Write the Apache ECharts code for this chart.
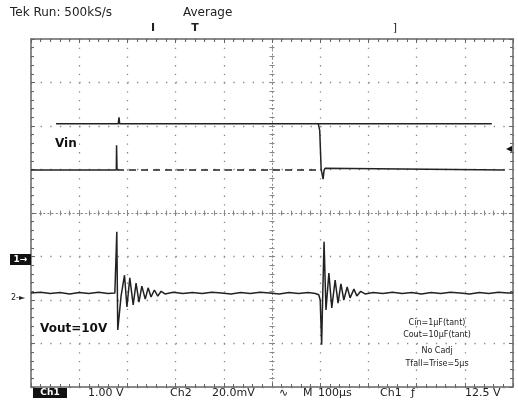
<!DOCTYPE html>
<html><head><meta charset="utf-8">
<script src="https://cdn.jsdelivr.net/npm/echarts@6/dist/echarts.min.js"></script>
<style>html,body{margin:0;padding:0;background:#fff}#c{width:518px;height:406px}</style>
</head><body><div id="c"></div>
<script>
// time in µs (M 100µs/div), values in screen divisions
const vinLowT = [-500, -323, -322.5, -321.5];
const vinLowV = [0.99, 0.99, 1.56, 0.99];
const vinDashT = [-321.5, 100];
const vinDashV = [0.99, 0.99];
const topLineT = [-448, -319, -317.5, -316, 456];
const topLineV = [2.05, 2.05, 2.2, 2.05, 2.05];
const vinFallT = [96, 99, 102, 103, 106, 108, 110, 483];
const vinFallV = [2.05, 1.9, 1.0, 0.95, 0.78, 0.98, 1.03, 0.99];
const voutT = [-500,-480,-460,-440,-420,-400,-380,-360,-340,-326,-323,-322,-320,-313,-306,-301,-295,-288,-282,-276,-270,-263,-257,-251,-244,-237,-230,-222,-205,-185,-165,-145,-125,-105,-85,-65,-45,-25,-5,15,35,55,75,90,97,100,103,105,108,112,118,124,131,137,143,149,156,162,170,176,184,193,210,230,250,270,290,310,330,350,370,390,410,430,450,470,490,500];
const voutV = [-1.84,-1.82,-1.85,-1.83,-1.86,-1.83,-1.85,-1.82,-1.85,-1.84,-1.84,-0.43,-2.69,-1.9,-1.43,-2.16,-1.49,-2.11,-1.61,-2.05,-1.68,-1.98,-1.72,-1.93,-1.77,-1.91,-1.80,-1.86,-1.82,-1.85,-1.83,-1.85,-1.82,-1.84,-1.86,-1.83,-1.85,-1.82,-1.84,-1.86,-1.83,-1.85,-1.83,-1.85,-1.88,-2.0,-3.03,-2.0,-0.66,-2.23,-1.38,-2.18,-1.54,-2.07,-1.63,-2.0,-1.70,-1.95,-1.75,-1.91,-1.80,-1.86,-1.83,-1.85,-1.82,-1.85,-1.83,-1.86,-1.83,-1.85,-1.82,-1.84,-1.86,-1.83,-1.85,-1.82,-1.84,-1.84];
const noteLines = ['Cin=1µF(tant)', 'Cout=10µF(tant)', 'No Cadj', 'Tfall=Trise=5µs'];

const zip = (t, v) => t.map((x, i) => [x, v[i]]);
const chart = echarts.init(document.getElementById('c'));
const frameC = '#666', dotC = '#888', traceC = '#222';
function xa(extra) {
  return Object.assign({type:'value', min:-500, max:500, interval:100, axisLabel:{show:false},
    splitLine:{show:false}, axisTick:{show:true, inside:true, length:4, lineStyle:{color:frameC}},
    minorTick:{show:true, splitNumber:5, length:3, lineStyle:{color:frameC}},
    axisLine:{show:true, onZero:false, lineStyle:{color:frameC, width:1.5}}}, extra);
}
function ya(extra) {
  return Object.assign({type:'value', min:-4, max:4, interval:1, axisLabel:{show:false},
    splitLine:{show:false}, axisTick:{show:true, inside:true, length:4, lineStyle:{color:frameC}},
    minorTick:{show:true, splitNumber:5, length:3, lineStyle:{color:frameC}},
    axisLine:{show:true, onZero:false, lineStyle:{color:frameC, width:1.5}}}, extra);
}
const centerLine = {show:true, onZero:true, onZeroAxisIndex:0, lineStyle:{color:dotC, width:1, type:[1.2,3]}};
const font = (s, w) => (w || '') + ' ' + s + 'px "DejaVu Sans"';
function txt(text, x, y, size, opts) {
  opts = opts || {};
  return {type:'text', z:100, style:{text, x, y, font:font(size, opts.weight), fill:opts.fill || '#222',
    align:opts.align || 'left', textAlign:opts.align || 'left', verticalAlign:'middle', textVerticalAlign:'middle'}};
}
const graphics = [
  txt('Tek Run: 500kS/s', 10, 13, 12),
  txt('Average', 183, 13, 12),
  txt('I', 153, 28, 11, {weight:'bold', align:'center'}),
  txt('T', 195, 28, 11, {weight:'bold', align:'center'}),
  txt(']', 395, 28, 11, {align:'center'}),
  txt('Vin', 55, 144, 12, {weight:'bold', fill:'#111'}),
  txt('Vout=10V', 40, 329, 12, {weight:'bold', fill:'#111'}),
  txt('◀', 509, 149, 8, {align:'center', fill:'#111'}),
  {type:'rect', z:100, shape:{x:10, y:254, width:21, height:11}, style:{fill:'#111'}},
  txt('1→', 20.5, 259.5, 9, {weight:'bold', fill:'#fff', align:'center'}),
  txt('2-►', 11, 298, 8, {fill:'#222'}),
  {type:'rect', z:100, shape:{x:33, y:388, width:34, height:10}, style:{fill:'#111'}},
  txt('Ch1', 50, 393, 9, {weight:'bold', fill:'#fff', align:'center'}),
  txt('1.00 V', 88, 393, 11),
  txt('Ch2', 170, 393, 11),
  txt('20.0mV', 212, 393, 11),
  txt('∿', 279, 393, 11),
  txt('M', 303, 393, 11),
  txt('100µs', 318, 393, 11),
  txt('Ch1', 380, 393, 11),
  txt('ƒ', 411, 393, 11),
  txt('12.5 V', 465, 393, 11)
];
const noteY = [323, 335, 351, 364];
noteLines.forEach((s, i) => graphics.push(txt(s, 437, noteY[i], 8, {align:'center'})));

const lineS = (name, data, dashed) => ({name, type:'line', data, showSymbol:false, symbol:'none',
  xAxisIndex:0, yAxisIndex:0, animation:false, z:10,
  lineStyle:{color:traceC, width:1.5, type: dashed ? [7,5] : 'solid'}});

chart.setOption({
  animation:false,
  backgroundColor:'#fff',
  grid:{left:31, right:5, top:39, bottom:19, show:false},
  xAxis:[
    xa({position:'bottom', splitLine:{show:true, lineStyle:{color:dotC, width:1.3, type:[1.3,7.4]}}}),
    xa({position:'top'}),
    xa({position:'bottom', axisLine:centerLine, axisTick:{show:true, inside:true, length:3, lineStyle:{color:dotC}}, minorTick:{show:true, splitNumber:5, length:2.5, lineStyle:{color:dotC}}}),
    xa({position:'bottom', axisLine:Object.assign({}, centerLine, {show:false}), axisTick:{show:true, inside:false, length:3, lineStyle:{color:dotC}}, minorTick:{show:true, splitNumber:5, length:2.5, lineStyle:{color:dotC}}})
  ],
  yAxis:[
    ya({position:'left', splitLine:{show:true, lineStyle:{color:dotC, width:1.3, type:[1.3,8.34]}}}),
    ya({position:'right'}),
    ya({position:'left', axisLine:centerLine, axisTick:{show:true, inside:true, length:3, lineStyle:{color:dotC}}, minorTick:{show:true, splitNumber:5, length:2.5, lineStyle:{color:dotC}}}),
    ya({position:'left', axisLine:Object.assign({}, centerLine, {show:false}), axisTick:{show:true, inside:false, length:3, lineStyle:{color:dotC}}, minorTick:{show:true, splitNumber:5, length:2.5, lineStyle:{color:dotC}}})
  ],
  series:[
    lineS('Vin low', zip(vinLowT, vinLowV)),
    lineS('Vin low dashed', zip(vinDashT, vinDashV), true),
    lineS('Vin high', zip(topLineT, topLineV)),
    lineS('Vin fall', zip(vinFallT, vinFallV)),
    lineS('Vout', zip(voutT, voutV))
  ],
  graphic:graphics
});
</script></body></html>
